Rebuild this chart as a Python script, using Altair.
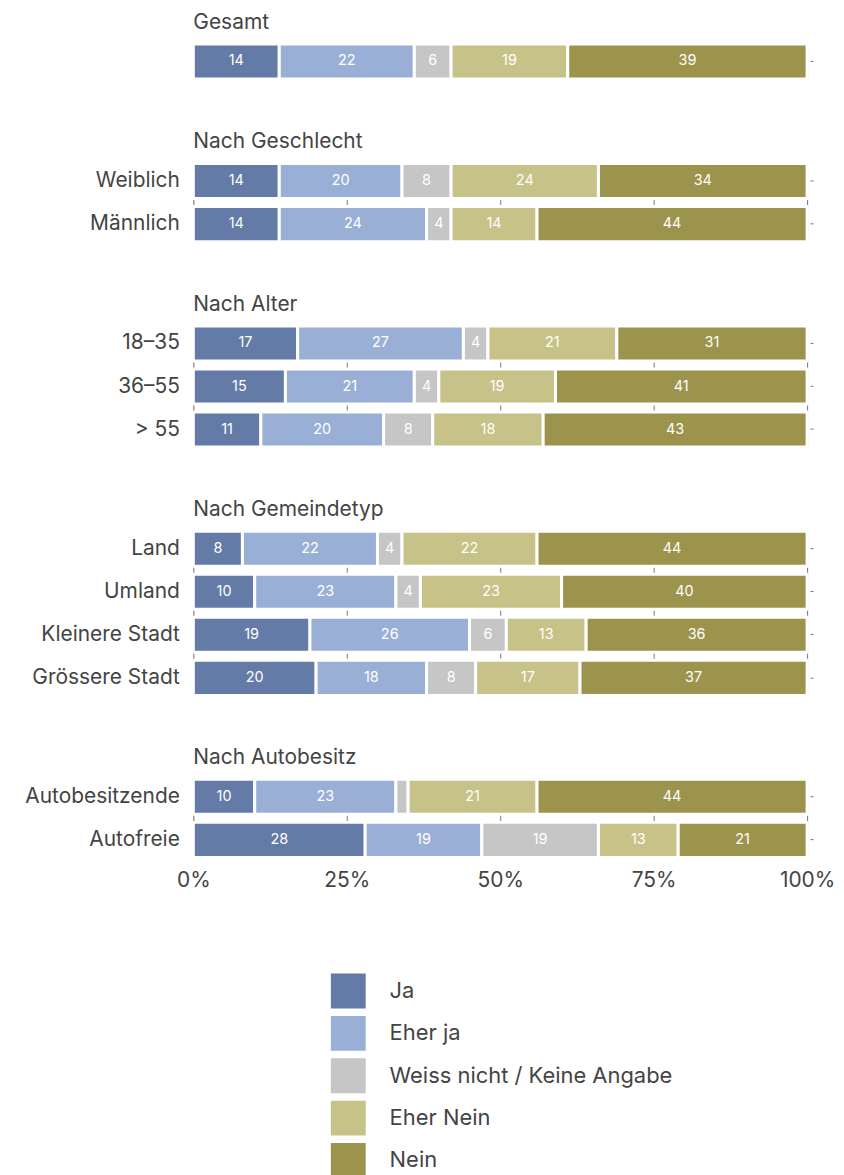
import altair as alt
import pandas as pd

groups = ["Gesamt", "Nach Geschlecht", "Nach Alter", "Nach Gemeindetyp", "Nach Autobesitz"]
group_rows = [
    ["Gesamt"],
    ["Weiblich", "Männlich"],
    ["18–35", "36–55", "> 55"],
    ["Land", "Umland", "Kleinere Stadt", "Grössere Stadt"],
    ["Autobesitzende", "Autofreie"],
]
answers = ["Ja", "Eher ja", "Weiss nicht / Keine Angabe", "Eher Nein", "Nein"]
colors = ["#637ba6", "#9aafd6", "#c6c6c6", "#c7c287", "#9c944d"]

ja          = [14, 14, 14, 17, 15, 11,  8, 10, 19, 20, 10, 28]
eher_ja     = [22, 20, 24, 27, 21, 20, 22, 23, 26, 18, 23, 19]
weiss_nicht = [ 6,  8,  4,  4,  4,  8,  4,  4,  6,  8,  2, 19]
eher_nein   = [19, 24, 14, 21, 19, 18, 22, 23, 13, 17, 21, 13]
nein        = [39, 34, 44, 31, 41, 43, 44, 40, 36, 37, 44, 21]

series = [ja, eher_ja, weiss_nicht, eher_nein, nein]

records = []
k = 0
for g, rows in zip(groups, group_rows):
    for r in rows:
        for ai, a in enumerate(answers):
            records.append({"group": g, "category": r, "answer": a, "order": ai, "value": series[ai][k]})
        k += 1
df = pd.DataFrame(records)

FONT = "Inter"
TXT = "#444444"
GRID = "#777777"


def sub(i):
    g = groups[i]
    rows = group_rows[i]
    last = i == len(groups) - 1
    base = (
        alt.Chart(df)
        .transform_filter(alt.datum.group == g)
        .transform_stack(stack="value", groupby=["category"], as_=["x0", "x1"], sort=[alt.SortField("order")])
        .transform_calculate(mid="(datum.x0 + datum.x1) / 2")
    )
    xaxis = alt.Axis(
        values=[0, 25, 50, 75, 100], grid=True, gridColor=GRID, gridWidth=1,
        labels=last, ticks=False, domain=False, labelExpr="datum.value + '%'",
        title=None, labelFontSize=21, labelColor=TXT, labelPadding=12, labelFont=FONT,
        labelFlush=False,
    )
    yscale = alt.Scale(paddingInner=0.186, paddingOuter=0)
    bars = base.mark_bar(stroke="white", strokeWidth=3).encode(
        x=alt.X("x0:Q", scale=alt.Scale(domain=[0, 100], nice=False), axis=xaxis),
        x2="x1:Q",
        y=alt.Y(
            "category:N", sort=rows, scale=yscale,
            axis=alt.Axis(title=None, labels=(i > 0), ticks=False, domain=False, grid=False,
                          minExtent=185, maxExtent=185, labelPadding=14, labelFontSize=21,
                          labelColor=TXT, labelFont=FONT, labelLimit=300),
        ),
        color=alt.Color(
            "answer:N", sort=answers, scale=alt.Scale(domain=answers, range=colors),
            legend=alt.Legend(
                orient="none", legendX=138, legendY=933, direction="vertical", title=None,
                symbolType="square", symbolSize=1225, symbolStrokeWidth=0, symbolOpacity=1,
                labelFontSize=22, labelFont=FONT, labelColor=TXT, labelOffset=24, rowPadding=7.5,
                labelLimit=400,
            ),
        ),
    )
    labels = base.transform_filter(alt.datum.value >= 3).mark_text(
        color="white", fontSize=14.5, font=FONT
    ).encode(
        x=alt.X("mid:Q"),
        y=alt.Y(
            "category:N", sort=rows, scale=yscale,
            axis=alt.Axis(orient="right", title=None, labels=False, ticks=True, tickSize=3,
                          tickColor=GRID, tickWidth=1, domain=False, grid=False, offset=3,
                          minExtent=0),
        ),
        text=alt.Text("value:Q"),
    )
    return (
        alt.layer(bars, labels)
        .resolve_axis(y="independent")
        .properties(
            width=616,
            height=alt.Step(43.2),
            title=alt.Title(g, anchor="start", frame="group", fontSize=21, fontWeight="normal",
                            color=TXT, font=FONT, offset=10),
        )
    )


chart = (
    alt.vconcat(*[sub(i) for i in range(len(groups))], spacing=49)
    .properties(padding={"left": 0, "top": 1, "right": 0, "bottom": 0})
    .configure_view(stroke=None)
    .configure(font=FONT)
)

chart.save("out.html", embed_options={"renderer": "svg", "actions": False})
